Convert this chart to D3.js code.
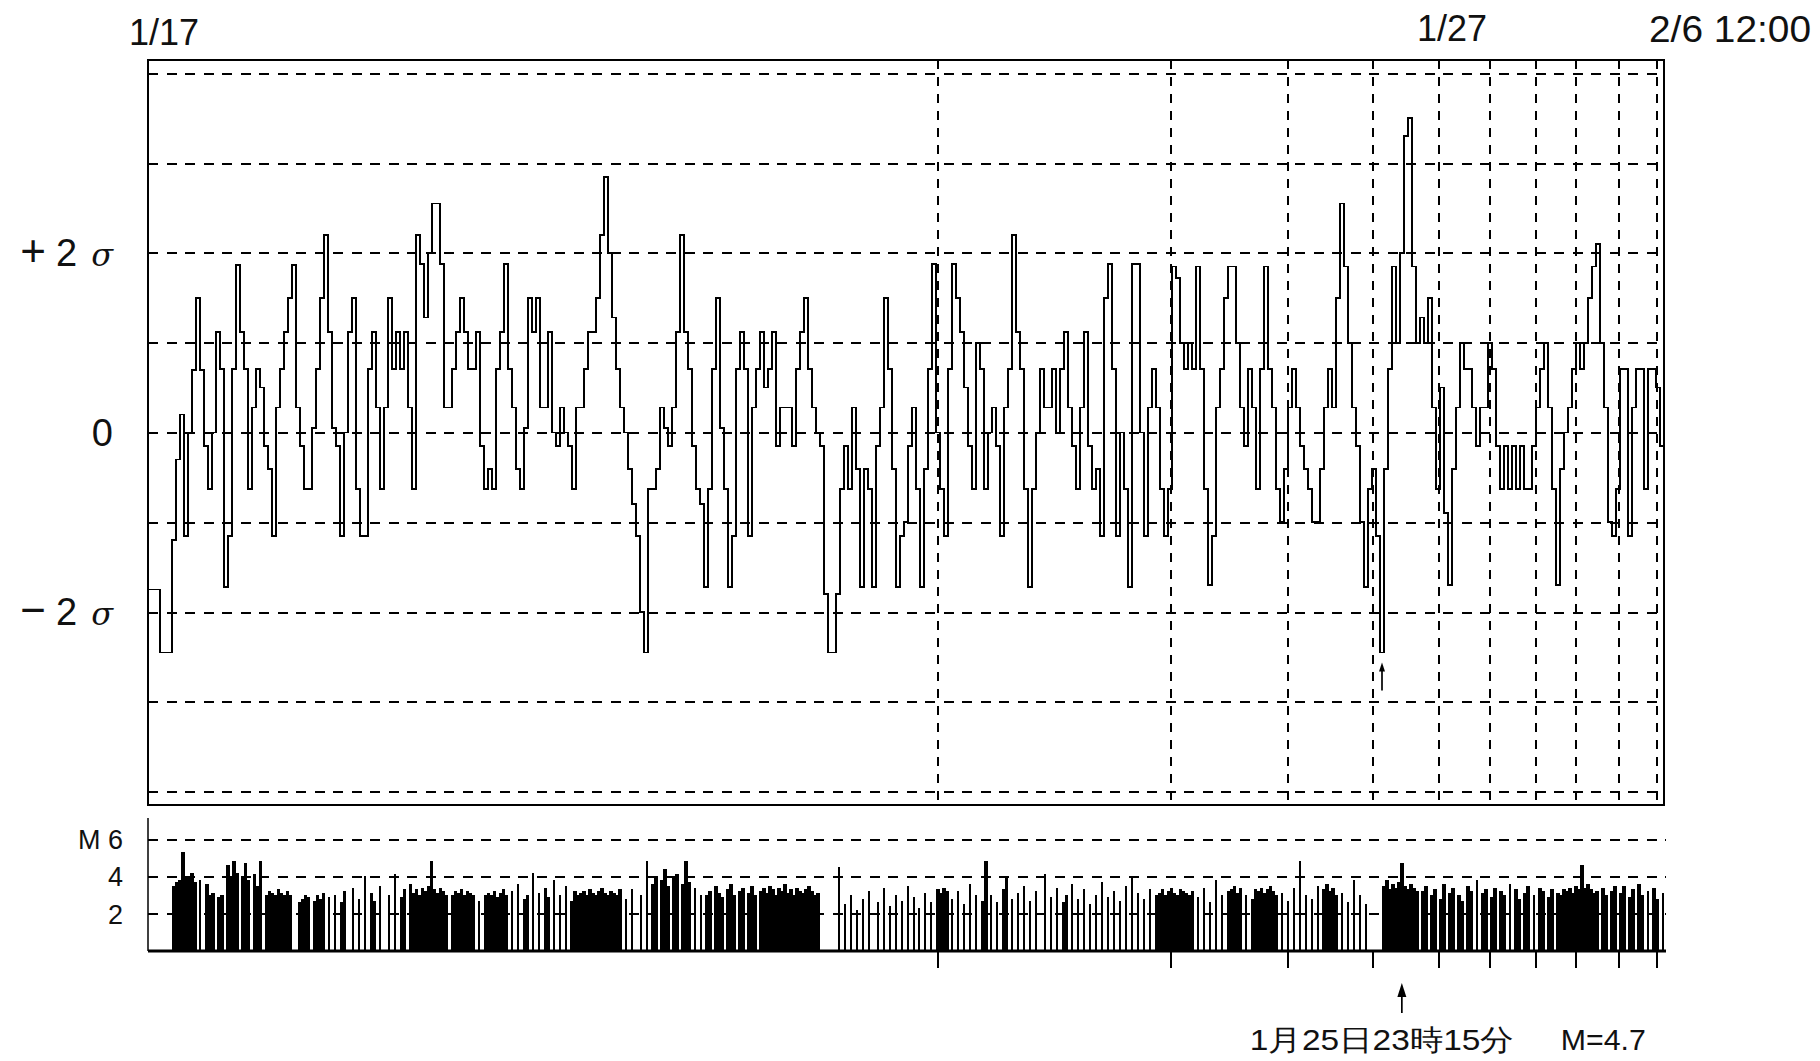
<!DOCTYPE html>
<html>
<head>
<meta charset="utf-8">
<script src="https://cdn.jsdelivr.net/npm/d3@7/dist/d3.min.js"></script>
<style>
  html, body { margin: 0; padding: 0; background: #fff; }
  svg { display: block; }
  text { font-family: "Liberation Sans", Arial, sans-serif; fill: #111; }
</style>
</head>
<body>
<svg id="chart" width="1820" height="1061"></svg>
<script>
// sigma index, one value per event step (left to right)
const sigmaA = [-1.75,-1.75,-1.75,-2.45,-2.45,-2.45,-1.2,-0.3,0.2,-1.15,0.0,0.7,1.5,0.7,-0.15,-0.63,0.0,1.12,0.71,-1.72,
  -1.15,0.71,1.87,1.12,0.71,-0.63,0.28,0.71,0.5,-0.15,-0.41,-1.15,0.28,0.71,1.12,1.5,1.87,0.28,-0.15,-0.63,
  -0.63,0.05,0.71,1.5,2.2,1.12,0.05,-0.15,-1.15,0.0,1.12,1.5,-0.63,-1.15,-1.15,0.71,1.12,0.28,-0.63,0.28,1.5,0.71,1.12];
const sigmaB = [0.71,1.12,0.28,-0.63,2.2,1.88,1.28,2.0,2.55,2.55,1.88,0.28,0.28,0.71,1.12,1.5,1.12,0.71,0.71,1.12,
  -0.15,-0.63,-0.41,-0.63,0.71,1.12,1.88,0.71,0.28,-0.41,-0.63,0.05,1.5,1.12,1.5,0.28,0.28,1.12,0.0,-0.15,
  0.28,0.0,-0.15,-0.63,0.28,0.28,0.71,1.12,1.12,1.5,2.2,2.85,2.0,1.28,0.71,0.28,0.0,-0.41,-0.8,-1.15,-2.0,-2.45,-0.63];
const sigmaC = [-0.63,-0.41,0.28,0.05,-0.15,0.28,1.12,2.2,1.12,0.71,-0.15,-0.63,-0.8,-1.72,-0.63,0.71,1.5,0.05,-0.63,-1.72,
  -1.15,0.71,1.12,0.71,-1.15,0.28,0.71,1.12,0.5,0.71,1.12,-0.15,0.28,0.28,0.28,-0.15,0.71,1.12,1.5,0.71,
  0.28,0.0,-0.15,-1.8,-2.45,-2.45,-1.8,-0.63,-0.15,-0.63,0.28,-0.41,-1.72,-0.41,-0.63,-1.72,-0.15,0.28,1.5,0.71,-0.41,-1.72,-1.15];
const sigmaD = [-1.0,-0.15,0.28,-0.63,-1.72,-0.41,0.71,1.88,0.0,-0.63,-1.15,0.71,1.88,1.5,1.12,0.5,-0.15,-0.63,1.0,0.71,
  -0.63,0.0,0.28,-0.15,-1.15,0.28,0.71,2.2,1.12,0.71,-0.63,-1.72,-0.63,0.0,0.71,0.28,0.28,0.71,0.0,0.71,
  1.12,0.28,-0.15,-0.63,0.28,1.12,-0.15,-0.63,-0.41,-1.15,1.5,1.88,0.71,-1.15,0.0,-0.63,-1.72,1.88,1.88,0.0,-1.15,0.28,0.71];
const sigmaE = [0.28,-0.63,-1.15,-0.63,1.85,1.72,1.0,0.71,1.0,0.71,1.85,0.71,-0.63,-1.7,-1.15,0.28,0.71,1.5,1.85,1.85,
  1.0,0.28,-0.15,0.71,0.28,-0.63,0.71,1.85,0.71,0.28,-0.63,-1.0,-0.41,0.28,0.71,0.28,-0.15,-0.41,-0.63,-1.0,
  -1.0,-0.41,0.28,0.71,0.28,1.5,2.55,1.85,1.0,0.28,-0.15,-1.0,-1.72,-0.63,-0.41,-1.15,-2.45,-0.41,0.71,1.85,1.0,2.0,3.3];
const sigmaF = [3.5,1.85,1.0,1.28,1.0,1.5,0.28,-0.63,0.5,-0.9,-1.7,-0.41,0.28,1.0,0.71,0.71,0.28,-0.15,0.28,0.28,
  1.0,0.71,-0.15,-0.63,-0.15,-0.63,-0.15,-0.63,-0.15,-0.63,-0.63,-0.15,0.28,0.71,1.0,0.28,-0.63,-1.7,-0.41,0.0,
  0.28,0.71,1.0,0.71,1.0,1.5,1.85,2.1,1.0,0.28,-1.0,-1.15,-0.63,0.71,0.71,-1.15,0.28,0.71,0.71,-0.63,0.71,0.71,0.5,-0.15];

// magnitudes, one per bar slot (0 = no event in that slot)
const magsA = [3.5,3.7,3.8,5.3,4.0,3.9,4.2,3.7,0,3.8,0,3.6,3.0,3.1,0,2.9,3.0,
  0,4.6,3.9,4.8,4.2,0,4.0,4.7,3.8,0,4.1,3.5,4.8,0,3.0,3.2,3.1,3.0,3.3,3.1,3.0,3.2,3.0,0,0,2.6,
  2.8,3.0,2.9,0,2.7,3.0,2.8,3.1,0,2.9,
  0,3.0,0,2.6,3.2,0,0,3.4,0,2.8,0,4.0,0,3.1,2.7,0,3.5,0,0,3.0,0,4.1,0,2.9,3.3,0,3.6];
const magsB = [3.1,3.3,3.0,3.4,3.2,3.5,4.8,3.3,3.1,3.4,3.2,3.0,0,3.0,3.2,3.1,3.3,3.0,3.2,3.1,3.0,0,
  2.7,0,3.0,3.1,3.0,3.2,2.9,3.1,3.3,3.0,0,
  3.2,0,3.6,0,2.8,3.0,0,4.2,0,3.1,0,3.4,2.9,0,3.8,0,3.0,0,3.5,0,2.7,3.2,
  3.0,3.1,3.2,3.0,3.3,3.1,3.0,3.2,3.4,3.1,3.0,3.2,3.1,3.0,3.3,0,
  2.8,0,3.3,0,0,3.0,0,4.8,0];
const magsC = [3.6,4.0,0,3.8,4.4,3.5,0,3.9,4.1,0,3.6,4.8,3.7,0,3.4,0,3.0,0,
  3.0,3.2,0,3.5,3.1,2.9,0,3.3,3.6,3.0,0,3.2,3.4,0,3.1,3.5,3.0,0,
  3.2,3.4,3.1,3.5,3.3,3.0,3.4,3.2,3.6,3.1,3.3,3.0,3.4,3.2,3.1,3.3,3.5,3.2,3.0,3.1,
  0,0,0,0,0,0,
  4.5,0,2.5,0,3.0,0,2.2,0,2.8,0,3.2,0,0,2.6,0,3.4,0,2.4,0,3.0,0,2.7,0,3.5,0,2.9,0,2.3,0,3.1,0,2.6,0,
  3.3,3.1,3.4,3.2,0,2.8,0,3.2,0,2.5,0,3.6,0,3.0,0,2.7,4.8];
const magsD = [0,3.0,0,2.6,0,3.3,4.0,0,2.8,0,3.1,0,3.5,0,2.7,0,3.2,0,0,4.1,
  0,2.9,0,3.4,0,2.6,3.0,0,3.6,0,2.8,0,3.3,0,2.5,0,3.0,0,3.7,0,
  2.9,0,3.2,0,2.7,0,3.5,0,4.0,0,3.1,0,2.8,0,3.3,0,3.0,
  3.1,3.3,3.0,3.2,3.4,3.1,3.0,3.3,3.2,3.1,3.0,3.2,
  0,2.9,0,3.4,0,2.6,0,3.8,0,3.0,0,3.2,3.3,3.5,3.1,3.4,0,3.0,0,2.8,
  3.3,3.2,3.4,3.1,3.3,3.5,3.2,3.0,0,3.1,0,2.7,0,3.4,0,4.8,
  0,3.0,0,2.8,0,3.5,0,3.3,3.6,3.2,3.4,3.0,0,3.1,0,2.6,0,3.8,0,3.0,0,2.5,0,
  0,0,0,0];
const magsE = [3.5,3.8,3.3,3.6,3.4,3.7,4.7,3.5,3.3,3.6,3.4,3.2,
  0,3.2,3.5,0,3.0,3.3,0,2.8,3.6,0,3.1,3.4,0,3.0,2.7,0,3.5,3.2,0,3.8,
  0,3.1,3.3,0,2.9,3.4,0,3.2,3.0,0,3.6,0,3.3,2.8,0,3.1,3.5,0,3.0,0,
  3.4,3.2,0,2.9,3.3,0,3.1,3.0,
  3.3,3.2,3.4,3.1,3.5,3.3,4.6,3.4,3.6,3.3,3.1,3.2,
  0,3.4,3.0,0,3.2,3.5,0,3.1,3.5,0,2.9,3.3,0,3.6,3.0,0,3.2,0,3.4,2.8,0,3.1];

const sigmaGrid = [4, 3, 2, 1, 0, -1, -2, -3, -4];
const sigmaLabels = [{v: 2, sign: "+", n: "2"}, {v: 0, sign: "", n: "0"}, {v: -2, sign: "\u2212", n: "2"}];
const magGrid = [2, 4, 6];
const magLabels = [{v: 6, t: "M 6"}, {v: 4, t: "4"}, {v: 2, t: "2"}];
// day boundaries, in event steps of the sigma series
const dayMarks = [197.5, 255.75, 285, 306.25, 322.75, 335.5, 347, 357, 367.75, 377.25];
const mainShock = 308.5;      // step of the M4.7 event in the sigma series
const mainShockBar = 410;     // slot of the M4.7 event in the magnitude bars
const note = ["1月25日23時15分", "M=4.7"];

const sigma = [].concat(sigmaA, sigmaB, sigmaC, sigmaD, sigmaE, sigmaF);
const mags = [].concat(magsA, magsB, magsC, magsD, magsE);

const svg = d3.select("#chart");
const L = 148, R = 1664, T = 60, B = 805;
const baseY = 951;

const x = d3.scaleLinear().domain([0, sigma.length]).range([L, R]);
const y = d3.scaleLinear().domain([-4.15, 4.15]).range([B, T]);
const xBar = d3.scaleLinear().domain([0, mags.length]).range([172, R]);
const yM = d3.scaleLinear().domain([0, 6]).range([baseY, 839]);

// ---- upper panel grid
const gy = svg.append("g").attr("transform", `translate(${L},0)`)
  .call(d3.axisLeft(y).tickValues(sigmaGrid).tickSize(-(R - L)).tickFormat(""));
gy.select(".domain").remove();
gy.selectAll("line").attr("stroke", "#000").attr("stroke-width", 2)
  .attr("stroke-dasharray", "10,8.5").attr("shape-rendering", "crispEdges");

svg.append("g").selectAll("line").data(dayMarks).join("line")
  .attr("x1", d => x(d)).attr("x2", d => x(d))
  .attr("y1", T).attr("y2", B)
  .attr("stroke", "#000").attr("stroke-width", 2).attr("stroke-dasharray", "9,8")
  .attr("shape-rendering", "crispEdges");

// ---- sigma step line
const line = d3.line()
  .x((d, i) => x(i))
  .y(d => y(d))
  .curve(d3.curveStepAfter);
svg.append("path")
  .datum(sigma.concat([sigma[sigma.length - 1]]))
  .attr("d", line)
  .attr("fill", "none").attr("stroke", "#000").attr("stroke-width", 1.7)
  .attr("shape-rendering", "crispEdges");

svg.append("rect")
  .attr("x", L).attr("y", T).attr("width", R - L).attr("height", B - T)
  .attr("fill", "none").attr("stroke", "#000").attr("stroke-width", 2.6)
  .attr("shape-rendering", "crispEdges");

// sigma labels
const sl = svg.append("g").selectAll("text").data(sigmaLabels).join("text")
  .attr("x", 113).attr("y", d => y(d.v) + 13)
  .attr("text-anchor", "end").attr("font-size", 38);
sl.filter(d => d.sign).each(function(d) {
  const t = d3.select(this);
  t.append("tspan").attr("font-size", 44).text(d.sign);
  t.append("tspan").attr("dx", 10).text(d.n);
  t.append("tspan").attr("dx", 14).attr("font-family", "DejaVu Serif").attr("font-style", "italic").attr("font-size", 32).text("\u03c3");
});
sl.filter(d => !d.sign).text(d => d.n);

// date labels
svg.append("text").attr("x", x(0) - 19).attr("y", 45).attr("font-size", 36).text("1/17");
svg.append("text").attr("x", x(326)).attr("y", 41).attr("text-anchor", "middle").attr("font-size", 36).text("1/27");
svg.append("text").attr("x", R + 147).attr("y", 42).attr("text-anchor", "end").attr("font-size", 36)
  .attr("textLength", 162).attr("lengthAdjust", "spacingAndGlyphs").text("2/6 12:00");

// small upward arrow
function arrow(ax, y0, y1, w, h) {
  svg.append("line").attr("x1", ax).attr("x2", ax).attr("y1", y0 + h - 2).attr("y2", y1)
    .attr("stroke", "#000").attr("stroke-width", 1.7);
  svg.append("path")
    .attr("d", `M${ax},${y0} L${ax - w / 2},${y0 + h} L${ax + w / 2},${y0 + h} Z`)
    .attr("fill", "#000");
}
arrow(x(mainShock), y(-2.45) + 10, y(-2.45) + 38, 6, 9);

// ---- lower panel
const gm = svg.append("g").attr("transform", `translate(${L},0)`)
  .call(d3.axisLeft(yM).tickValues(magGrid).tickSize(-(R + 2 - L)).tickFormat(""));
gm.select(".domain").remove();
gm.selectAll("line").attr("stroke", "#000").attr("stroke-width", 2)
  .attr("stroke-dasharray", "10,8.5").attr("shape-rendering", "crispEdges");

// lone events show as thin strokes, runs of events merge into solid black
const bw = xBar(1) - xBar(0);
const lone = i => !(mags[i - 1] > 0) && !(mags[i + 1] > 0);
svg.append("g").attr("shape-rendering", "crispEdges")
  .selectAll("rect").data(mags.map((m, i) => ({m, i})).filter(d => d.m > 0)).join("rect")
  .attr("x", d => lone(d.i) ? xBar(d.i + 0.5) - 1 : xBar(d.i))
  .attr("width", d => lone(d.i) ? 2 : bw + 0.6)
  .attr("y", d => yM(d.m)).attr("height", d => baseY - yM(d.m))
  .attr("fill", "#000");

svg.append("line").attr("x1", L).attr("x2", L).attr("y1", 818).attr("y2", baseY)
  .attr("stroke", "#000").attr("stroke-width", 1.5);
svg.append("line").attr("x1", L).attr("x2", R + 2).attr("y1", baseY).attr("y2", baseY)
  .attr("stroke", "#000").attr("stroke-width", 3);
svg.append("g").selectAll("line").data(dayMarks).join("line")
  .attr("x1", d => x(d)).attr("x2", d => x(d))
  .attr("y1", baseY).attr("y2", baseY + 17)
  .attr("stroke", "#000").attr("stroke-width", 1.6).attr("shape-rendering", "crispEdges");

svg.append("g").selectAll("text").data(magLabels).join("text")
  .attr("x", 123).attr("y", d => yM(d.v) + 10)
  .attr("text-anchor", "end").attr("font-size", 27).text(d => d.t);

// M4.7 annotation
const bx = xBar(mainShockBar + 0.5);
arrow(bx, 983, 1013, 9, 14);
svg.append("text").attr("x", bx - 152).attr("y", 1050)
  .attr("font-family", "Noto Sans CJK JP").attr("font-size", 29)
  .attr("textLength", 264).attr("lengthAdjust", "spacingAndGlyphs").text(note[0]);
svg.append("text").attr("x", bx + 159).attr("y", 1050)
  .attr("font-family", "Noto Sans CJK JP").attr("font-size", 29)
  .attr("textLength", 85).attr("lengthAdjust", "spacingAndGlyphs").text(note[1]);
</script>
</body>
</html>
